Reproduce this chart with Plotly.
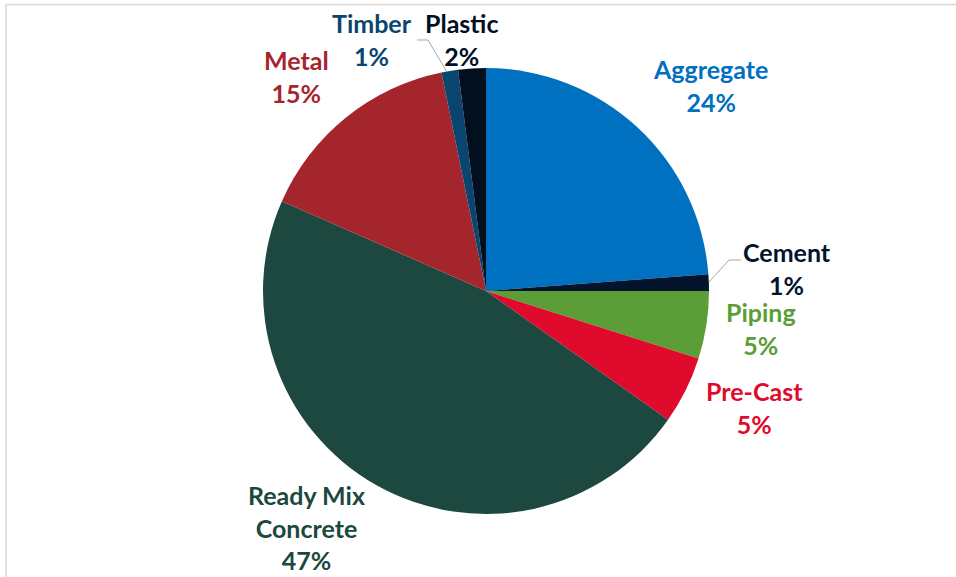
import plotly.graph_objects as go

W, H = 956, 577

categories = ["Aggregate", "Cement", "Piping", "Pre-Cast", "Ready Mix<br>Concrete", "Metal", "Timber", "Plastic"]
values = [23.8, 1.2, 4.9, 4.9, 46.8, 15.2, 1.2, 2.0]
colors = ["#0070C0", "#02152D", "#5B9E37", "#E00A2C", "#1D4840", "#A5252D", "#0A4570", "#010F1F"]

# label anchor positions (pixels) for each category
label_px = [(710, 86), (787, 268), (761, 328), (754, 407), (306, 527), (296, 77), (372, 40), (461, 40)]

def px(x, y):
    return x / W, 1 - y / H

total = sum(values)
cx, cy, r = 486, 291, 223

fig = go.Figure(go.Pie(
    labels=[c.replace("<br>", " ") for c in categories],
    values=values,
    marker=dict(colors=colors, line=dict(width=0)),
    sort=False,
    direction="clockwise",
    rotation=0,
    textinfo="none",
    hoverinfo="label+percent",
    showlegend=False,
    domain=dict(x=[(cx - r) / W, (cx + r) / W], y=[1 - (cy + r) / H, 1 - (cy - r) / H]),
))

annotations = []
for cat, v, col, (lx, ly) in zip(categories, values, colors, label_px):
    ax, ay = px(lx, ly)
    annotations.append(dict(
        x=ax, y=ay, xref="paper", yref="paper",
        text=f"<b>{cat}<br>{round(v / total * 100)}%</b>",
        showarrow=False, align="center", xanchor="center", yanchor="middle",
        font=dict(family="Lato", size=25, color=col),
    ))

shapes = []
def line(pts, color="#A6A6A6", width=1):
    path = "M " + " L ".join(f"{px(x, y)[0]:.5f},{px(x, y)[1]:.5f}" for x, y in pts)
    shapes.append(dict(type="path", path=path, xref="paper", yref="paper",
                       line=dict(color=color, width=width)))

# leader lines
line([(417, 40), (428, 40), (447, 72)])
line([(741, 260), (729, 260), (709, 282)])
# chart frame (left and top edges)
line([(6, 577), (6, 4.5), (956, 4.5)], color="#D9D9D9", width=1.5)

fig.update_layout(
    width=W, height=H, autosize=False,
    margin=dict(l=0, r=0, t=0, b=0),
    paper_bgcolor="white", plot_bgcolor="white",
    annotations=annotations, shapes=shapes,
)

fig.write_html("out.html",
               config={"displayModeBar": False},
               post_script="document.body.style.margin='0';document.body.style.overflow='hidden';")
